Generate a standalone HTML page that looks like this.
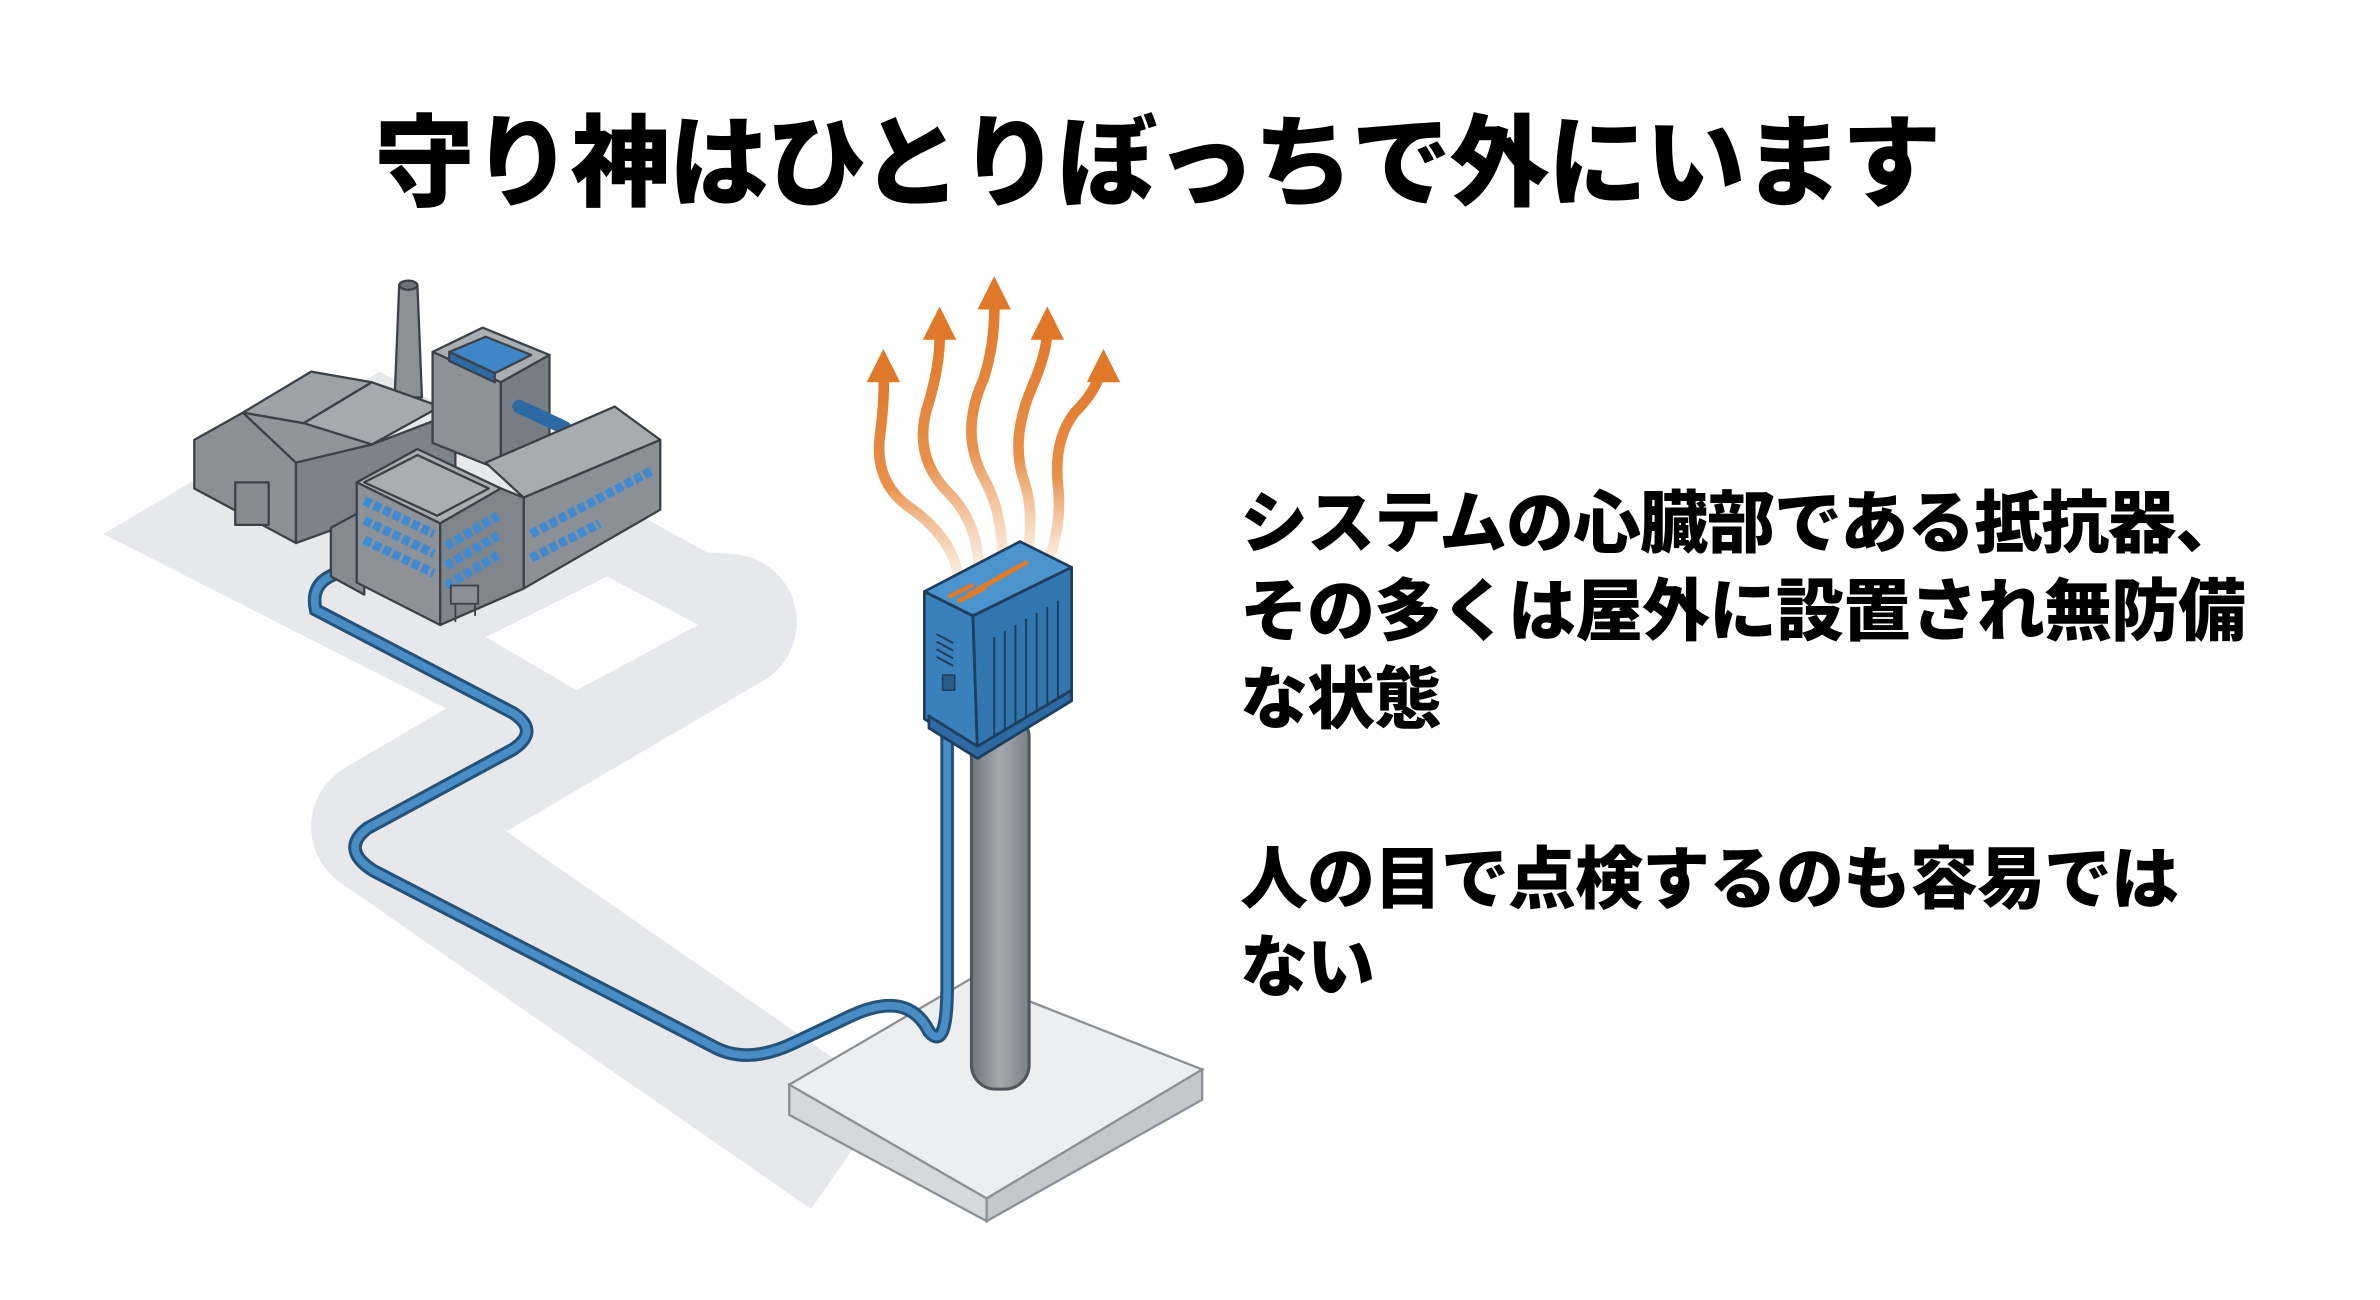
<!DOCTYPE html>
<html><head><meta charset="utf-8"><style>
html,body{margin:0;padding:0;background:#fff;}
body{width:2380px;height:1300px;position:relative;overflow:hidden;font-family:"Liberation Sans","Noto Sans CJK JP",sans-serif;}
h1{position:absolute;left:0;width:2314px;top:94px;margin:0;text-align:center;font-size:100px;font-weight:900;color:#000;letter-spacing:-2px;line-height:140px;}
.t{position:absolute;left:1240px;font-size:68px;font-weight:900;color:#000;line-height:88px;white-space:nowrap;letter-spacing:-1px;}
svg{position:absolute;left:0;top:0;}
</style></head><body>
<svg width="2380" height="1300" viewBox="0 0 1568 857" preserveAspectRatio="none">
<defs>
<linearGradient id="pole" x1="0" x2="1"><stop offset="0" stop-color="#6f757c"/><stop offset=".5" stop-color="#a3a9ae"/><stop offset="1" stop-color="#7b8188"/></linearGradient>
<linearGradient id="heat" x1="0" y1="1" x2="0" y2="0"><stop offset="0" stop-color="#f3c9a4" stop-opacity=".3"/><stop offset=".45" stop-color="#e8904a"/><stop offset="1" stop-color="#e0782a"/></linearGradient>
</defs>
<g fill="#e6e8eb" stroke="none">
<polygon points="68,352 250,245 480,372 300,470"/>
<polyline points="300,400 480,410 250,545 560,760" fill="none" stroke="#e6e8eb" stroke-width="90" stroke-linejoin="round"/>
<polygon points="320,420 400,380 460,412 380,455" fill="#fff"/>
</g>
<polygon points="520,715 520,735 650,805 650,790" fill="#d6d9dc" stroke="#8a9096" stroke-width="1.5"/>
<polygon points="650,790 650,805 792,725 792,705" fill="#c4c8cc" stroke="#8a9096" stroke-width="1.5"/>
<polygon points="520,715 640,645 792,705 650,790" fill="#eceef0" stroke="#8a9096" stroke-width="1.5"/>
<rect x="640" y="470" width="38" height="248" rx="16" fill="url(#pole)" stroke="#50565c" stroke-width="2"/>
<path d="M222 378 Q204 384 208 402 L338 470 Q356 482 338 494 L242 546 Q224 560 246 574 L470 690 Q492 702 522 688 L560 670 Q598 652 612 680 Q624 694 624 650 L624 460 Q624 448 630 448" fill="none" stroke="#24527a" stroke-width="9" stroke-linecap="round"/>
<path d="M222 378 Q204 384 208 402 L338 470 Q356 482 338 494 L242 546 Q224 560 246 574 L470 690 Q492 702 522 688 L560 670 Q598 652 612 680 Q624 694 624 650 L624 460 Q624 448 630 448" fill="none" stroke="#4a8cc4" stroke-width="5" stroke-linecap="round"/>
<g stroke="#3b4148" stroke-width="1.5" stroke-linejoin="round">
<polygon points="263,188 275,188 278,262 260,262" fill="#8b9197"/>
<ellipse cx="269" cy="188" rx="6" ry="3" fill="#6d737a"/>
<polygon points="128,290 128,322 195,358 195,305 160,272" fill="#8a9096"/>
<polygon points="160,272 205,245 245,252 200,279" fill="#9ca2a8"/>
<polygon points="200,279 245,252 290,268 245,293" fill="#a4aaaf"/>
<polygon points="195,305 160,272 200,279 245,293 230,305" fill="#8f959b"/>
<polygon points="195,305 245,293 300,272 300,320 195,358" fill="#7d838a"/>
<rect x="155" y="318" width="22" height="28" fill="#868c92"/>
<polygon points="285,232 318,216 362,234 330,252" fill="#a9aeb3"/>
<polygon points="285,232 330,252 330,310 285,292" fill="#8c9298"/>
<polygon points="330,252 362,234 362,290 330,310" fill="#777d84"/>
<polygon points="296,232 320,222 350,234 326,246" fill="#3f86c6"/>
<polygon points="296,232 326,246 326,252 296,238" fill="#2d6aa3"/>
<path d="M342 268 L372 282" stroke="#2d6aa3" stroke-width="9" stroke-linecap="round"/>
<polygon points="320,305 405,268 435,290 345,328" fill="#a7acb1"/>
<polygon points="345,328 435,290 435,336 345,388" fill="#8a9096"/>
<polygon points="218,348 240,336 240,392 218,380" fill="#858b91"/>
<polygon points="235,318 275,296 330,322 290,345" fill="#a9aeb3"/>
<polygon points="240,318 275,300 322,322 288,340" fill="none"/>
<polygon points="235,318 290,345 290,412 235,384" fill="#8c9298"/>
<polygon points="290,345 330,322 345,328 345,388 290,412" fill="#7f858b"/>
</g>
<g stroke="#3f8ad0" stroke-width="6" stroke-dasharray="5 2">
<line x1="240" y1="330" x2="286" y2="352"/>
<line x1="240" y1="343" x2="286" y2="365"/>
<line x1="240" y1="356" x2="286" y2="378"/>
<line x1="294" y1="360" x2="328" y2="340"/>
<line x1="294" y1="373" x2="328" y2="353"/>
<line x1="294" y1="386" x2="328" y2="366"/>
<line x1="350" y1="352" x2="430" y2="310"/>
<line x1="350" y1="368" x2="395" y2="345"/>
</g>
<g stroke="#3b4148" stroke-width="1.2" fill="none"><rect x="297" y="386" width="18" height="12" fill="#8a9096"/><line x1="300" y1="398" x2="300" y2="410"/><line x1="313" y1="398" x2="313" y2="406"/></g>
<g fill="none" stroke="url(#heat)" stroke-width="7" stroke-linecap="round">
<path d="M632 382 Q628 355 600 335 Q575 318 580 285 Q583 262 582 245"/>
<path d="M645 378 Q645 345 625 325 Q600 300 612 265 Q620 238 619 217"/>
<path d="M660 374 Q662 340 648 315 Q632 285 648 250 Q656 225 655 197"/>
<path d="M676 370 Q682 340 675 318 Q665 290 680 255 Q690 232 690 217"/>
<path d="M690 372 Q700 345 697 320 Q694 290 708 272 Q722 258 725 245"/>
</g>
<g fill="#e0782a">
<polygon points="582,230 571,252 593,252"/>
<polygon points="619,202 608,224 630,224"/>
<polygon points="655,182 644,204 666,204"/>
<polygon points="690,202 679,224 701,224"/>
<polygon points="727,230 716,252 738,252"/>
</g>
<g stroke="#1d3e5c" stroke-width="1.8" stroke-linejoin="round">
<polygon points="609,390 672,357 706,374 641,406" fill="#4b93cc"/>
<polygon points="609,390 641,406 644,496 609,474" fill="#3a80bb"/>
<polygon points="641,406 706,374 706,455 644,496" fill="#3276b0"/>
<polygon points="612,472 644,492 706,455 706,462 644,500 612,480" fill="#2d6aa3"/>
</g>
<g stroke="#e07b2a" stroke-width="3" stroke-linecap="round">
<line x1="626" y1="393" x2="640" y2="386"/><line x1="632" y1="396" x2="648" y2="388"/><line x1="638" y1="392" x2="655" y2="383"/><line x1="645" y1="388" x2="662" y2="379"/><line x1="652" y1="384" x2="669" y2="375"/><line x1="659" y1="380" x2="676" y2="371"/>
</g>
<g stroke="#1d3e5c" stroke-width="1.3">
<line x1="655" y1="420" x2="655" y2="485"/><line x1="662" y1="416" x2="662" y2="481"/><line x1="669" y1="412" x2="669" y2="477"/><line x1="676" y1="408" x2="676" y2="473"/><line x1="683" y1="404" x2="683" y2="469"/><line x1="690" y1="400" x2="690" y2="465"/><line x1="697" y1="396" x2="697" y2="461"/>
<line x1="617" y1="418" x2="628" y2="424"/><line x1="617" y1="423" x2="628" y2="429"/><line x1="617" y1="428" x2="628" y2="434"/><line x1="617" y1="433" x2="628" y2="439"/>
</g>
<rect x="621" y="445" width="8" height="10" fill="#2a5c8a" stroke="#1d3e5c"/>
</svg>
<h1>守り神はひとりぼっちで外にいます</h1>
<div class="t" style="top:480px">システムの心臓部である抵抗器、<br>その多くは屋外に設置され無防備<br>な状態</div>
<div class="t" style="top:836px">人の目で点検するのも容易では<br>ない</div>
</body></html>
